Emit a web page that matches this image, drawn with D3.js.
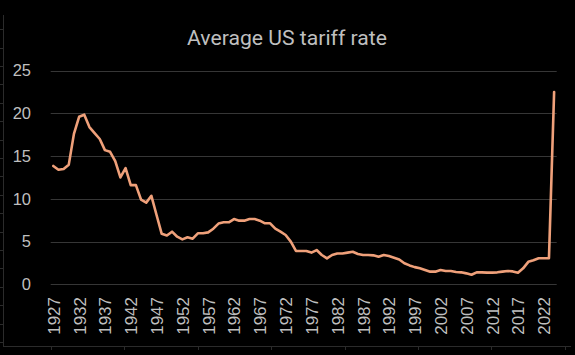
<!DOCTYPE html>
<html>
<head>
<meta charset="utf-8">
<script src="https://cdn.jsdelivr.net/npm/d3@7"></script>
<style>
  html, body { margin: 0; padding: 0; background: #000; }
  svg { display: block; }
</style>
</head>
<body>
<div id="chart"></div>
<script>
const title = "Average US tariff rate";
const years = d3.range(1927, 2025);
const tariffRate = [
  13.85, 13.4, 13.5, 14.0, 17.6, 19.6, 19.85, 18.4, 17.7, 17.0,
  15.7, 15.5, 14.4, 12.5, 13.6, 11.6, 11.6, 9.9, 9.55, 10.35,
  8.1, 5.9, 5.7, 6.15, 5.56, 5.25, 5.5, 5.33, 5.96, 5.96,
  6.07, 6.5, 7.1, 7.25, 7.25, 7.63, 7.44, 7.44, 7.63, 7.63,
  7.44, 7.13, 7.13, 6.5, 6.15, 5.76, 4.98, 3.89, 3.89, 3.89,
  3.7, 4.0, 3.42, 3.03, 3.42, 3.6, 3.6, 3.7, 3.8, 3.54,
  3.42, 3.42, 3.38, 3.22, 3.42, 3.3, 3.1, 2.9, 2.45, 2.2,
  2.0, 1.86, 1.66, 1.47, 1.47, 1.66, 1.55, 1.55, 1.43, 1.39,
  1.27, 1.11, 1.39, 1.39, 1.35, 1.35, 1.39, 1.47, 1.55, 1.5,
  1.35, 1.86, 2.62, 2.8, 3.03, 3.03, 3.03, 22.5
];
const yTicks = [0, 5, 10, 15, 20, 25];
const xTickYears = years.filter((y, i) => i % 5 === 0);

const W = 575, H = 355;
const svg = d3.select("#chart").append("svg")
  .attr("width", W).attr("height", H)
  .style("background", "#000");

// faint outer frame
const frameColor = "#2b2b2b";
svg.append("line").attr("x1", 3.5).attr("x2", 3.5).attr("y1", 15).attr("y2", 346.5)
  .attr("stroke", frameColor);
svg.append("line").attr("x1", 3).attr("x2", 571).attr("y1", 346.5).attr("y2", 346.5)
  .attr("stroke", frameColor);
d3.range(342, 14, -18.4).forEach(v => {
  svg.append("line").attr("x1", 0).attr("x2", 3.5).attr("y1", Math.round(v) + 0.5).attr("y2", Math.round(v) + 0.5)
    .attr("stroke", frameColor);
});
d3.range(0, 8).forEach(k => {
  const xv = Math.round(51 + k * 73.4) + 0.5;
  svg.append("line").attr("x1", xv).attr("x2", xv).attr("y1", 346.5).attr("y2", 350)
    .attr("stroke", frameColor);
});

const x = d3.scalePoint().domain(years).range([50.7, 556.7]).padding(0.5);
const y = d3.scaleLinear().domain([0, 25]).range([284.2, 70.7]);

// gridlines
svg.append("g").selectAll("line").data(yTicks).join("line")
  .attr("x1", 50.7).attr("x2", 556.7)
  .attr("y1", d => Math.round(y(d)) + 0.5).attr("y2", d => Math.round(y(d)) + 0.5)
  .attr("stroke", "#363636").attr("stroke-width", 1);

// y axis labels
const yAxis = d3.axisLeft(y).tickValues(yTicks).tickSize(0).tickPadding(0);
const gy = svg.append("g").attr("transform", "translate(31,0)").call(yAxis);
gy.select(".domain").remove();
gy.selectAll("text")
  .attr("fill", "#BFBFBF")
  .style("font-family", "'Liberation Sans', Arial, sans-serif")
  .style("font-size", "16.5px");

// x axis labels
const xAxis = d3.axisBottom(x).tickValues(xTickYears).tickSize(0).tickPadding(0);
const gx = svg.append("g").attr("transform", "translate(0,297)").call(xAxis);
gx.select(".domain").remove();
gx.selectAll("text")
  .attr("fill", "#BFBFBF")
  .attr("transform", "rotate(-90)")
  .attr("text-anchor", "end")
  .attr("x", 0).attr("y", 0).attr("dy", "0.35em")
  .style("font-family", "'Liberation Sans', Arial, sans-serif")
  .style("font-size", "17px");

// line
const line = d3.line().x((d, i) => x(years[i])).y(d => y(d));
svg.append("path").datum(tariffRate)
  .attr("d", line)
  .attr("fill", "none")
  .attr("stroke", "#EFA07A")
  .attr("stroke-width", 2.6)
  .attr("stroke-linejoin", "round")
  .attr("stroke-linecap", "round");

// title
svg.append("text")
  .attr("x", 287).attr("y", 45)
  .attr("text-anchor", "middle")
  .attr("fill", "#BFBFBF")
  .attr("textLength", 200)
  .attr("lengthAdjust", "spacingAndGlyphs")
  .style("font-family", "Roboto, 'Open Sans', sans-serif")
  .style("font-weight", "400")
  .style("font-size", "21px")
  .text(title);
</script>
</body>
</html>
